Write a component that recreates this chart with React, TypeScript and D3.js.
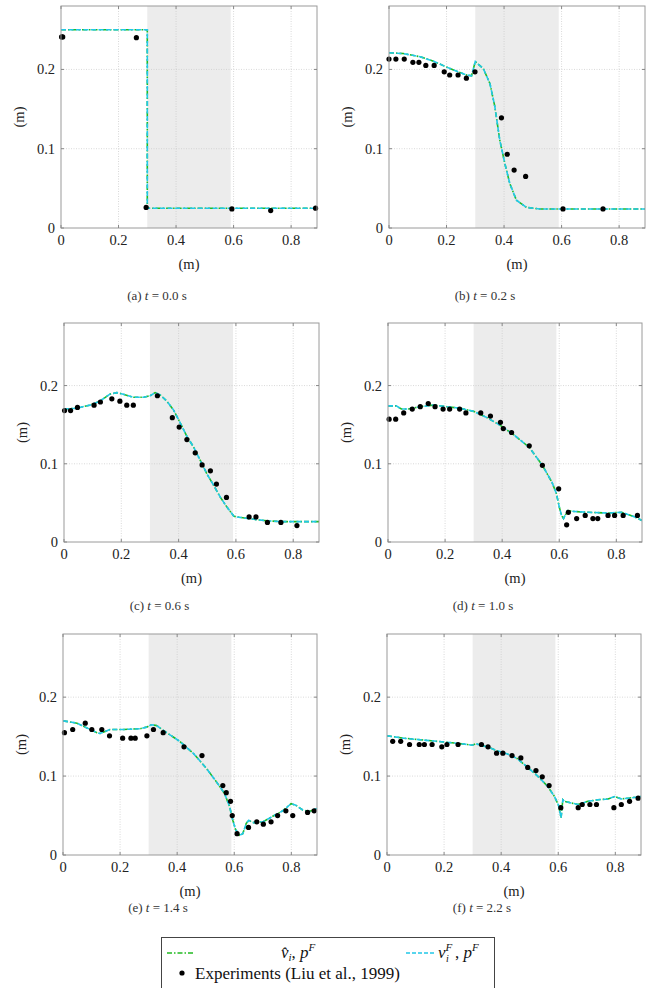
import React from "react";
import * as d3 from "d3";

// snapshot times and panel letters
const letters = ["a", "b", "c", "d", "e", "f"];
const times = ["0.0", "0.2", "0.6", "1.0", "1.4", "2.2"];
const xTicks = [0, 0.2, 0.4, 0.6, 0.8];
const yTicks = [0, 0.1, 0.2];
const shadeRange = [0.3, 0.59];

// simulated free surface (both models overlap)
const modelA = [[0, 0.25], [0.3, 0.25], [0.3, 0.025], [0.89, 0.025]];
const modelB = [
  [0, 0.221], [0.05, 0.22], [0.108, 0.216], [0.15, 0.211], [0.2, 0.203], [0.24, 0.197],
  [0.27, 0.193], [0.287, 0.192], [0.3, 0.21], [0.312, 0.206], [0.328, 0.201], [0.351, 0.182],
  [0.368, 0.153], [0.385, 0.111], [0.403, 0.081], [0.42, 0.056], [0.443, 0.035],
  [0.478, 0.026], [0.524, 0.024], [0.89, 0.024],
];
const modelC = [
  [0, 0.17], [0.043, 0.171], [0.09, 0.175], [0.125, 0.18], [0.16, 0.189], [0.184, 0.191],
  [0.207, 0.189], [0.242, 0.185], [0.277, 0.185], [0.301, 0.187], [0.318, 0.191],
  [0.336, 0.188], [0.359, 0.18], [0.382, 0.169], [0.406, 0.152], [0.429, 0.135],
  [0.453, 0.121], [0.476, 0.104], [0.499, 0.087], [0.523, 0.072], [0.546, 0.057],
  [0.57, 0.044], [0.593, 0.033], [0.605, 0.032], [0.663, 0.029], [0.71, 0.027],
  [0.768, 0.026], [0.89, 0.026],
];
const modelD = [
  [0, 0.174], [0.029, 0.174], [0.047, 0.17], [0.071, 0.17], [0.112, 0.173], [0.159, 0.175],
  [0.206, 0.173], [0.253, 0.171], [0.3, 0.167], [0.347, 0.159], [0.394, 0.149],
  [0.441, 0.137], [0.495, 0.121], [0.541, 0.098], [0.575, 0.076], [0.59, 0.062],
  [0.6, 0.045], [0.608, 0.034], [0.615, 0.03], [0.629, 0.04], [0.653, 0.039],
  [0.7, 0.038], [0.771, 0.037], [0.818, 0.038], [0.865, 0.032], [0.89, 0.0275],
];
const modelE = [
  [0, 0.17], [0.049, 0.167], [0.084, 0.161], [0.119, 0.155], [0.13, 0.154], [0.165, 0.159],
  [0.212, 0.159], [0.27, 0.16], [0.293, 0.162], [0.31, 0.165], [0.328, 0.164],
  [0.363, 0.155], [0.409, 0.144], [0.456, 0.129], [0.502, 0.11], [0.537, 0.093],
  [0.566, 0.078], [0.584, 0.061], [0.595, 0.044], [0.605, 0.032], [0.619, 0.025],
  [0.63, 0.027], [0.642, 0.04], [0.651, 0.044], [0.665, 0.041], [0.7, 0.042],
  [0.735, 0.049], [0.77, 0.056], [0.799, 0.065], [0.816, 0.063], [0.84, 0.057],
  [0.863, 0.055], [0.89, 0.059],
];
const modelF = [
  [0, 0.151], [0.059, 0.148], [0.117, 0.146], [0.176, 0.144], [0.235, 0.142], [0.282, 0.14],
  [0.299, 0.139], [0.311, 0.141], [0.328, 0.139], [0.352, 0.137], [0.387, 0.132],
  [0.422, 0.128], [0.457, 0.122], [0.493, 0.111], [0.528, 0.1], [0.563, 0.087],
  [0.587, 0.074], [0.601, 0.063], [0.61, 0.047], [0.616, 0.07], [0.622, 0.068],
  [0.645, 0.066], [0.669, 0.064], [0.704, 0.068], [0.739, 0.07], [0.774, 0.071],
  [0.798, 0.074], [0.821, 0.071], [0.845, 0.072], [0.89, 0.074],
];

// experiments (Liu et al., 1999)
const expA = [[0.002, 0.241], [0.006, 0.241], [0.262, 0.24], [0.296, 0.026], [0.594, 0.024], [0.729, 0.022], [0.885, 0.025]];
const expB = [
  [0, 0.213], [0.024, 0.213], [0.053, 0.213], [0.083, 0.209], [0.104, 0.209], [0.128, 0.205],
  [0.157, 0.205], [0.192, 0.197], [0.211, 0.193], [0.24, 0.193], [0.269, 0.189], [0.299, 0.197],
  [0.391, 0.139], [0.411, 0.093], [0.435, 0.073], [0.475, 0.065], [0.605, 0.024], [0.744, 0.024],
];
const expC = [
  [0.002, 0.168], [0.023, 0.168], [0.047, 0.172], [0.105, 0.175], [0.127, 0.179], [0.167, 0.183],
  [0.195, 0.18], [0.219, 0.175], [0.242, 0.175], [0.326, 0.187], [0.378, 0.159], [0.402, 0.147],
  [0.429, 0.131], [0.458, 0.114], [0.482, 0.0985], [0.511, 0.091], [0.532, 0.074], [0.567, 0.057],
  [0.646, 0.032], [0.67, 0.032], [0.71, 0.025], [0.757, 0.025], [0.813, 0.021],
];
const expD = [
  [0.004, 0.157], [0.027, 0.157], [0.055, 0.165], [0.085, 0.17], [0.113, 0.173], [0.141, 0.177],
  [0.165, 0.173], [0.193, 0.17], [0.216, 0.17], [0.251, 0.17], [0.273, 0.165], [0.325, 0.165],
  [0.359, 0.161], [0.394, 0.153], [0.404, 0.145], [0.433, 0.14], [0.495, 0.123], [0.541, 0.098],
  [0.598, 0.068], [0.626, 0.022], [0.632, 0.038], [0.661, 0.03], [0.691, 0.034], [0.718, 0.03],
  [0.735, 0.03], [0.771, 0.034], [0.794, 0.034], [0.824, 0.034], [0.874, 0.034],
];
const expE = [
  [0.005, 0.155], [0.034, 0.159], [0.078, 0.167], [0.101, 0.159], [0.136, 0.159], [0.163, 0.151],
  [0.209, 0.148], [0.238, 0.148], [0.253, 0.148], [0.294, 0.151], [0.317, 0.159], [0.351, 0.155],
  [0.424, 0.137], [0.487, 0.126], [0.56, 0.088], [0.572, 0.079], [0.587, 0.068], [0.593, 0.05],
  [0.61, 0.027], [0.65, 0.035], [0.679, 0.042], [0.702, 0.039], [0.729, 0.042], [0.752, 0.05],
  [0.781, 0.056], [0.805, 0.05], [0.857, 0.054], [0.88, 0.056],
];
const expF = [
  [0.02, 0.144], [0.048, 0.144], [0.079, 0.14], [0.113, 0.14], [0.131, 0.14], [0.158, 0.14],
  [0.192, 0.137], [0.21, 0.14], [0.249, 0.14], [0.331, 0.14], [0.354, 0.137], [0.384, 0.129],
  [0.406, 0.129], [0.438, 0.126], [0.469, 0.123], [0.493, 0.111], [0.522, 0.107], [0.544, 0.099],
  [0.568, 0.088], [0.609, 0.06], [0.67, 0.06], [0.684, 0.064], [0.711, 0.064], [0.734, 0.064],
  [0.795, 0.06], [0.821, 0.064], [0.85, 0.068], [0.88, 0.072],
];

const models = [modelA, modelB, modelC, modelD, modelE, modelF];
const experiments = [expA, expB, expC, expD, expE, expF];

// panel frames in page pixels
const frames = [
  { left: 61, top: 6, w: 256, h: 222, capY: 296 },
  { left: 389, top: 6, w: 256, h: 222, capY: 296 },
  { left: 64, top: 323, w: 255, h: 219, capY: 606 },
  { left: 388, top: 323, w: 254, h: 219, capY: 606 },
  { left: 63, top: 634, w: 254, h: 221, capY: 908 },
  { left: 387, top: 634, w: 254, h: 221, capY: 908 },
];

const FONT = "Liberation Serif, DejaVu Serif, Times New Roman, serif";
const GREEN = "#22bb22";
const CYAN = "#22c8e8";

const Panel = ({ i }) => {
  const f = frames[i];
  const x = d3.scaleLinear().domain([0, 0.89]).range([f.left, f.left + f.w]);
  const y = d3.scaleLinear().domain([0, 0.28]).range([f.top + f.h, f.top]);
  const line = d3.line().x((d) => x(d[0])).y((d) => y(d[1]));
  const bottom = f.top + f.h;
  const fmt = (v) => (v === 0 ? "0" : d3.format(".1f")(v));
  const clipId = `clip-${i}`;

  return (
    <g>
      <clipPath id={clipId}>
        <rect x={f.left} y={f.top} width={f.w} height={f.h} />
      </clipPath>
      <rect
        x={x(shadeRange[0])}
        y={f.top}
        width={x(shadeRange[1]) - x(shadeRange[0])}
        height={f.h}
        fill="#ececec"
      />
      {xTicks.slice(1).map((t) => (
        <line key={"gx" + t} x1={x(t)} x2={x(t)} y1={f.top} y2={bottom}
          stroke="#c8c8c8" strokeWidth={0.7} strokeDasharray="1,1.5" />
      ))}
      {yTicks.slice(1).map((t) => (
        <line key={"gy" + t} x1={f.left} x2={f.left + f.w} y1={y(t)} y2={y(t)}
          stroke="#c8c8c8" strokeWidth={0.7} strokeDasharray="1,1.5" />
      ))}
      <g clipPath={`url(#${clipId})`}>
        <path d={line(models[i])} fill="none" stroke={GREEN} strokeWidth={1.6}
          strokeDasharray="5,2,1.5,2" />
        <path d={line(models[i])} fill="none" stroke={CYAN} strokeWidth={1.6}
          strokeDasharray="5,2.5" />
      </g>
      {experiments[i].map((d, k) => (
        <circle key={k} cx={x(d[0])} cy={y(d[1])} r={2.6} fill="#000" />
      ))}
      <rect x={f.left} y={f.top} width={f.w} height={f.h} fill="none"
        stroke="#9a9a9a" strokeWidth={1} />
      {xTicks.map((t) => (
        <g key={"tx" + t}>
          <line x1={x(t)} x2={x(t)} y1={bottom} y2={bottom - 3} stroke="#888" />
          <line x1={x(t)} x2={x(t)} y1={f.top} y2={f.top + 3} stroke="#888" />
          <text x={x(t)} y={bottom + 17} textAnchor="middle" fontSize={14.5}
            fontFamily={FONT} fill="#222">{fmt(t)}</text>
        </g>
      ))}
      {yTicks.map((t) => (
        <g key={"ty" + t}>
          <line x1={f.left} x2={f.left + 3} y1={y(t)} y2={y(t)} stroke="#888" />
          <line x1={f.left + f.w} x2={f.left + f.w - 3} y1={y(t)} y2={y(t)} stroke="#888" />
          <text x={f.left - 6} y={y(t) + 5} textAnchor="end" fontSize={14.5}
            fontFamily={FONT} fill="#222">{fmt(t)}</text>
        </g>
      ))}
      <text x={f.left + f.w / 2} y={bottom + 41} textAnchor="middle" fontSize={14.5}
        fontFamily={FONT} fill="#222">(m)</text>
      <text transform={`translate(${f.left - 37},${f.top + f.h / 2}) rotate(-90)`}
        textAnchor="middle" fontSize={14.5} fontFamily={FONT} fill="#222">(m)</text>
      <text x={f.left + f.w / 2 - 32} y={f.capY + 4} textAnchor="middle" fontSize={13}
        fontFamily={FONT} fill="#333">
        ({letters[i]}) <tspan fontStyle="italic">t</tspan> = {times[i]} s
      </text>
    </g>
  );
};

const Legend = () => (
  <g fontFamily={FONT} fill="#111">
    <rect x={161.5} y={937.5} width={333} height={60} fill="#fff" stroke="#444" strokeWidth={1} />
    <line x1={167} x2={195} y1={953} y2={953} stroke={GREEN} strokeWidth={1.6}
      strokeDasharray="5,2,1.5,2" />
    <text x={281} y={958} fontSize={17}>
      <tspan fontStyle="italic">{"v\u0302"}</tspan>
      <tspan fontSize={11} fontStyle="italic" dy={3}>i</tspan>
      <tspan dy={-3}>, </tspan>
      <tspan fontStyle="italic">p</tspan>
      <tspan fontSize={11} fontStyle="italic" dy={-7}>F</tspan>
    </text>
    <line x1={406} x2={435} y1={953} y2={953} stroke={CYAN} strokeWidth={1.6}
      strokeDasharray="4,2" />
    <text x={438} y={958} fontSize={17}>
      <tspan fontStyle="italic">v</tspan>
      <tspan fontSize={11} fontStyle="italic" dy={-7}>F</tspan>
    </text>
    <text x={446} y={962} fontSize={10} fontStyle="italic">i</text>
    <text x={455} y={958} fontSize={17}>
      <tspan>, </tspan>
      <tspan fontStyle="italic">p</tspan>
      <tspan fontSize={11} fontStyle="italic" dy={-7}>F</tspan>
    </text>
    <circle cx={182} cy={973} r={2.6} fill="#000" />
    <text x={195} y={979} fontSize={17}>Experiments (Liu et al., 1999)</text>
  </g>
);

export default function App() {
  return (
    <svg width={652} height={988} style={{ position: "absolute", left: 0, top: 0, background: "#fff" }}>
      {frames.map((_, i) => (
        <Panel key={i} i={i} />
      ))}
      <Legend />
    </svg>
  );
}
